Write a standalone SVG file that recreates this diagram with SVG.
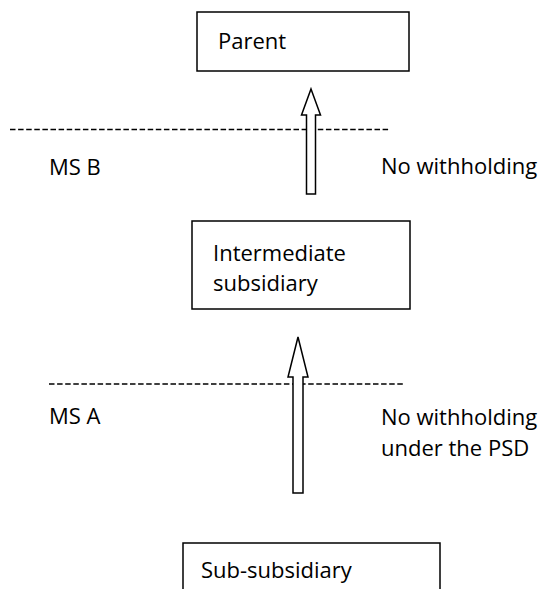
<svg xmlns="http://www.w3.org/2000/svg" width="542" height="589" viewBox="0 0 542 589">
<style>
.box{fill:#fff;stroke:#000;stroke-width:1.5}
.arr{fill:#fff;stroke:#000;stroke-width:1.5;stroke-linejoin:miter}
.dash{stroke:#000;stroke-width:1.4;stroke-dasharray:5.5 2.6;fill:none}
text{font-family:"Open Sans","Liberation Sans",sans-serif;font-size:22px;fill:#000}
</style>
<rect width="542" height="589" fill="#fff"/>
<g id="connectors">
<line class="dash" x1="10" y1="129.5" x2="389" y2="129.5"/>
<line class="dash" x1="49" y1="384" x2="405" y2="384"/>
<polygon class="arr" points="311,89 320.5,115 315.5,115 315.5,194 306.5,194 306.5,115 301.5,115"/>
<polygon class="arr" points="298,337 308,377 303,377 303,493 293,493 293,377 288,377"/>
</g>
<g id="parent">
<rect class="box" x="197" y="12" width="212" height="59"/>
<text x="218" y="49">Parent</text>
</g>
<g id="intermediate">
<rect class="box" x="192" y="221" width="218" height="88"/>
<text x="213" y="261">Intermediate</text>
<text x="213" y="291">subsidiary</text>
</g>
<g id="subsub">
<rect class="box" x="183" y="543" width="257" height="60"/>
<text x="201" y="578">Sub-subsidiary</text>
</g>
<g id="labels">
<text x="49" y="175">MS B</text>
<text x="381" y="174">No withholding</text>
<text x="49" y="424">MS A</text>
<text x="381" y="425">No withholding</text>
<text x="381" y="456">under the PSD</text>
</g>
</svg>
